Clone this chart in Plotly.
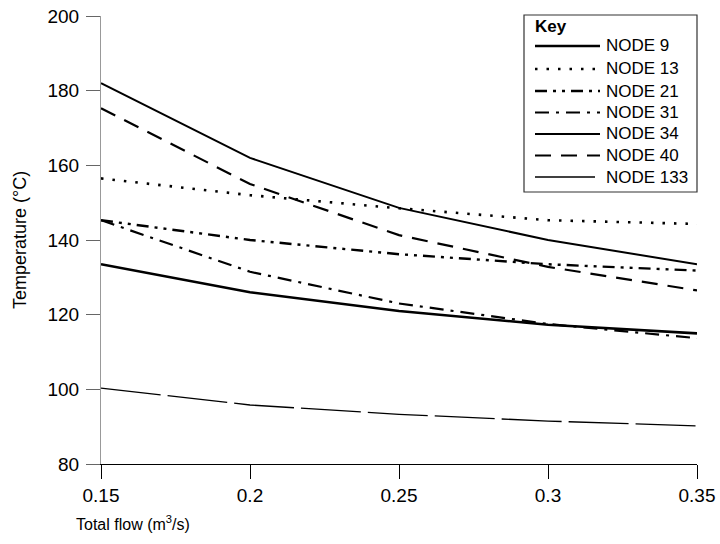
import plotly.graph_objects as go

flow = [0.15, 0.2, 0.25, 0.3, 0.35]

node_names = ["NODE 9", "NODE 13", "NODE 21", "NODE 31", "NODE 34", "NODE 40", "NODE 133"]
node_9 = [133.5, 126.0, 121.0, 117.3, 115.0]
node_13 = [156.5, 152.0, 148.5, 145.3, 144.3]
node_21 = [145.3, 140.0, 136.2, 133.5, 131.8]
node_31 = [145.3, 131.5, 123.0, 117.5, 113.7]
node_34 = [182.0, 162.0, 148.6, 140.0, 133.5]
node_40 = [175.3, 155.0, 141.3, 132.8, 126.5]
node_133 = [100.3, 95.8, 93.3, 91.5, 90.2]

series = [node_9, node_13, node_21, node_31, node_34, node_40, node_133]
styles = [
    dict(width=2.6, dash="solid"),
    dict(width=2.6, dash="2.5px,9px"),
    dict(width=2.4, dash="12px,6px,3px,6px,3px,6px"),
    dict(width=2.2, dash="14px,7px,3px,7px"),
    dict(width=2.0, dash="solid"),
    dict(width=2.2, dash="16px,10px"),
    dict(width=1.3, dash="60px,7px"),
]

x_ticks = [0.15, 0.2, 0.25, 0.3, 0.35]
x_tick_labels = ["0.15", "0.2", "0.25", "0.3", "0.35"]
y_ticks = [80, 100, 120, 140, 160, 180, 200]

# layout geometry (pixels)
W, H = 720, 544
ML, MR, MT, MB = 101, 23, 16, 80
PW, PH = W - ML - MR, H - MT - MB


def px(x):
    return (x - ML) / PW


def py(y):
    return (H - MB - y) / PH


fig = go.Figure()
for name, vals, st in zip(node_names, series, styles):
    fig.add_trace(go.Scatter(
        x=flow, y=vals, mode="lines", name=name, showlegend=False,
        line=dict(color="black", width=st["width"], dash=st["dash"]),
    ))

fig.update_layout(
    width=W, height=H,
    margin=dict(l=ML, r=MR, t=MT, b=MB, autoexpand=False),
    paper_bgcolor="white", plot_bgcolor="white",
    font=dict(family="Liberation Sans, Arial, sans-serif", size=18, color="black"),
    showlegend=False,
)

fig.update_xaxes(
    range=[0.15, 0.35], tickvals=x_ticks, ticktext=x_tick_labels,
    showgrid=False, zeroline=False,
    showline=True, linecolor="black", linewidth=1,
    ticks="outside", ticklen=14, tickcolor="black", tickwidth=1,
    tickfont=dict(size=19), ticklabeloverflow="allow",
)
fig.update_yaxes(
    range=[80, 200], tickvals=y_ticks,
    showgrid=False, zeroline=False,
    showline=True, linecolor="#999999", linewidth=1,
    ticks="outside", ticklen=14, tickcolor="#666666", tickwidth=1,
    tickfont=dict(size=19), ticklabeloverflow="allow", ticklabelstandoff=3,
)

# axis titles
fig.add_annotation(
    text="Temperature (°C)", xref="paper", yref="paper",
    x=px(20), y=py(240), xanchor="center", yanchor="middle", textangle=-90,
    showarrow=False, font=dict(size=18),
)
fig.add_annotation(
    text="Total flow (m<sup>3</sup>/s)", xref="paper", yref="paper",
    x=px(74), y=py(523), xanchor="left", yanchor="middle",
    showarrow=False, font=dict(size=16),
)

# key (legend) box
fig.add_shape(type="rect", xref="paper", yref="paper",
              x0=px(524), x1=px(697), y0=py(192), y1=py(15),
              line=dict(color="#333333", width=1.2), fillcolor="white", layer="above")
fig.add_annotation(text="<b>Key</b>", xref="paper", yref="paper",
                   x=px(533), y=py(27), xanchor="left", yanchor="middle",
                   showarrow=False, font=dict(size=17))
row_y = [46, 69, 91, 112.5, 134, 155.5, 177]
for name, st, ry in zip(node_names, styles, row_y):
    fig.add_shape(type="line", xref="paper", yref="paper",
                  x0=px(535), x1=px(600), y0=py(ry), y1=py(ry),
                  line=dict(color="black", width=st["width"], dash=st["dash"]),
                  layer="above")
    fig.add_annotation(text=name, xref="paper", yref="paper",
                       x=px(604), y=py(ry), xanchor="left", yanchor="middle",
                       showarrow=False, font=dict(size=17))

fig.write_html("out.html", config={"displayModeBar": False},
               post_script="document.body.style.margin='0px';")
